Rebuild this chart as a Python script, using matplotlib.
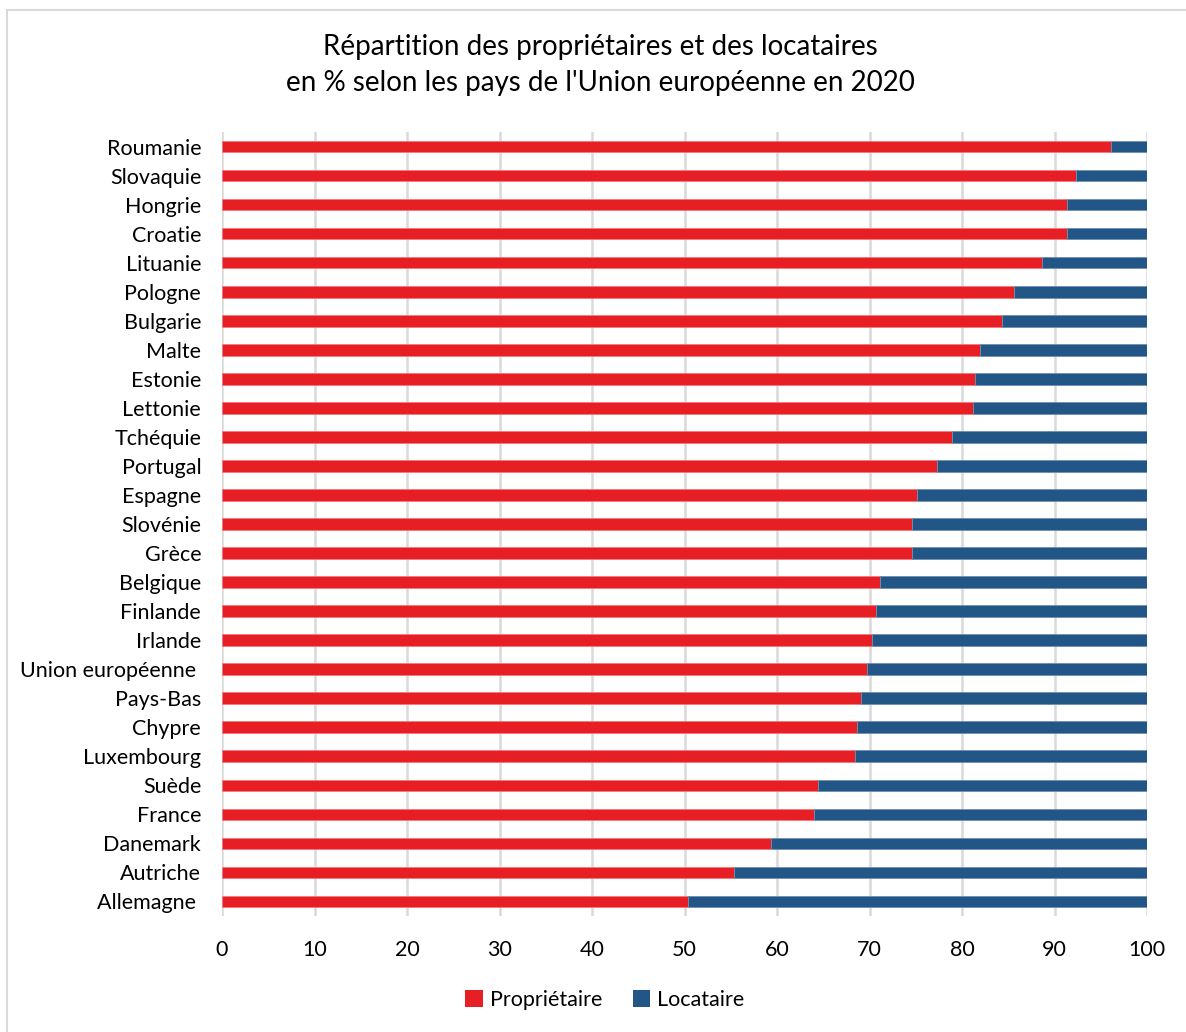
import matplotlib
matplotlib.use("Agg")
import matplotlib.pyplot as plt
from matplotlib.patches import Rectangle, Patch

countries = ["Roumanie", "Slovaquie", "Hongrie", "Croatie", "Lituanie", "Pologne",
             "Bulgarie", "Malte", "Estonie", "Lettonie", "Tchéquie", "Portugal",
             "Espagne", "Slovénie", "Grèce", "Belgique", "Finlande", "Irlande",
             "Union européenne ", "Pays-Bas", "Chypre", "Luxembourg", "Suède",
             "France", "Danemark", "Autriche", "Allemagne "]
proprietaire = [96.1, 92.3, 91.3, 91.3, 88.6, 85.6, 84.3, 81.9, 81.4, 81.2, 78.9,
                77.3, 75.1, 74.6, 74.6, 71.1, 70.7, 70.3, 69.7, 69.1, 68.6, 68.4,
                64.4, 64.0, 59.3, 55.3, 50.4]
locataire = [round(100 - p, 1) for p in proprietaire]
xticks = [0, 10, 20, 30, 40, 50, 60, 70, 80, 90, 100]

RED = "#E81E25"
BLUE = "#215687"
FONT = ["Lato", "DejaVu Sans"]
plt.rcParams["font.family"] = FONT

W, H = 1186, 1032
fig = plt.figure(figsize=(W / 100, H / 100), dpi=100)
fig.patch.set_facecolor("white")

# outer chart border
fig.patches.append(Rectangle((7 / W, -0.1), 1.2, (H - 10) / H + 0.1,
                             transform=fig.transFigure, fill=False,
                             edgecolor="#D9D9D9", linewidth=1.5))

ax = fig.add_axes([222 / W, 116 / H, 925 / W, 784 / H])
y = list(range(len(countries)))
ax.barh(y, proprietaire, height=0.4, color=RED, edgecolor="#F07A7E",
        linewidth=0.6, label="Propriétaire", zorder=3)
ax.barh(y, locataire, left=proprietaire, height=0.4, color=BLUE,
        edgecolor="#6F8FB0", linewidth=0.6, label="Locataire", zorder=3)

ax.set_xlim(0, 100)
ax.set_ylim(len(countries) - 0.5, -0.5)
ax.set_xticks(xticks)
ax.set_xticklabels([str(t) for t in xticks])
ax.set_yticks(y)
ax.set_yticklabels(countries)
ax.grid(axis="x", color="#D9D9D9", linewidth=1.8, zorder=0)
ax.grid(axis="y", visible=False)
for s in ax.spines.values():
    s.set_visible(False)
ax.tick_params(axis="both", length=0, colors="black")
ax.tick_params(axis="x", pad=17, labelsize=15.5)
ax.tick_params(axis="y", pad=15, labelsize=15.5)

fig.text(0.506, 1 - 47 / H, "Répartition des propriétaires et des locataires",
         ha="center", va="center", fontsize=20)
fig.text(0.506, 1 - 83 / H, "en % selon les pays de l'Union européenne en 2020",
         ha="center", va="center", fontsize=20)

handles = [Patch(facecolor=RED, label="Propriétaire"),
           Patch(facecolor=BLUE, label="Locataire")]
fig.legend(handles=handles, loc="center", bbox_to_anchor=(605 / W, 1 - 1000 / H),
           ncol=2, frameon=False, fontsize=15.5, handlelength=0.8, handleheight=0.8,
           handletextpad=0.35, columnspacing=1.4)

fig.savefig("out.png", dpi=100, facecolor="white")
